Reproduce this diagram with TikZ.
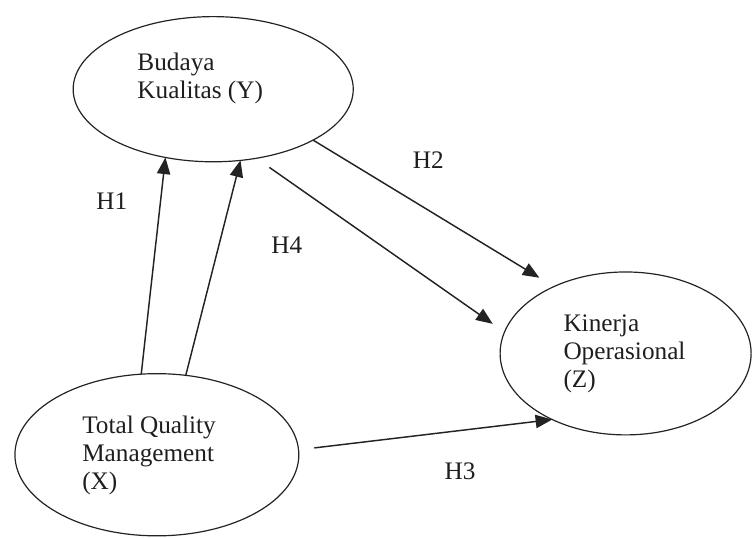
\documentclass[tikz,border=0pt]{standalone}
\usepackage{fontspec}
\setmainfont{Liberation Serif}
\usetikzlibrary{shapes.geometric, arrows.meta}
\definecolor{diagline}{RGB}{35, 35, 35}
\definecolor{diagtext}{RGB}{30, 30, 30}

\begin{document}
\begin{tikzpicture}[
        vell/.style={draw=diagline, line width=0.9pt, ellipse,
            inner sep=0pt, outer sep=0pt},
        vtxt/.style={anchor=north west, inner sep=0pt, align=left,
            text=diagtext, font=\fontsize{19}{21}\selectfont},
        hlab/.style={inner sep=0pt, text=diagtext,
            font=\fontsize{19}{21}\selectfont},
        harr/.style={draw=diagline, line width=1.1pt,
            -{Triangle[length=12.5pt, width=10pt]}}
    ]
    \useasboundingbox (0, 0) rectangle (19.92, 14.23);
    \node[vell, minimum width=7.41cm, minimum height=3.84cm] (budaya) at (5.64, 11.87) {};
    \node[vell, minimum width=6.64cm, minimum height=4.31cm] (kinerja) at (16.55, 4.88) {};
    \node[vell, minimum width=7.51cm, minimum height=4.29cm] (tqm) at (4.15, 2.20) {};
    \node[vtxt] (budayatxt) at (3.63, 12.83) {Budaya\\Kualitas (Y)};
    \node[vtxt] (kinerjatxt) at (14.90, 5.90) {Kinerja\\Operasional\\(Z)};
    \node[vtxt] (tqmtxt) at (2.17, 3.23) {Total Quality\\Management\\(X)};
    \draw[harr] (tqm.101) -- (budaya.235);
    \draw[harr] (tqm.70) -- (budaya.291);
    \draw[harr, shorten >=0.45cm] (budaya.333) -- (kinerja.137);
    \draw[harr, shorten <=0.42cm, shorten >=0.38cm] (budaya.302) -- (kinerja.170);
    \draw[harr, shorten <=0.42cm] (tqm.2) -- (kinerja.222);
    \node[hlab] (h1) at (2.96, 8.92) {H1};
    \node[hlab] (h2) at (11.33, 10.00) {H2};
    \node[hlab] (h4) at (7.59, 7.75) {H4};
    \node[hlab] (h3) at (12.17, 1.77) {H3};
\end{tikzpicture}
\end{document}
